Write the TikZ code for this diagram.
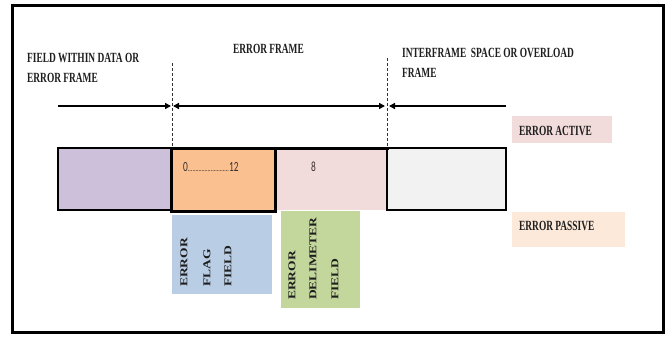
\documentclass[tikz,border=0pt]{standalone}
\usepackage{fontspec}
\setmainfont{Liberation Serif}
\newfontfamily\digitfont{Carlito}
\usetikzlibrary{arrows.meta}
\definecolor{purp}{HTML}{CCC0DA}
\definecolor{orng}{HTML}{FAC090}
\definecolor{pnk}{HTML}{F2DCDB}
\definecolor{gry}{HTML}{F2F2F2}
\definecolor{blu}{HTML}{B9CDE5}
\definecolor{grn}{HTML}{C3D69B}
\definecolor{peach}{HTML}{FDE9D9}
\definecolor{txtc}{HTML}{1E1E1E}
\definecolor{digc}{HTML}{3A3030}
\newcommand{\hc}[1]{\scalebox{0.67}[1]{#1}}
\newcommand{\vc}[1]{\scalebox{1}[0.78]{#1}}
\tikzset{
  lbl/.style={inner sep=0pt, anchor=base west, text=txtc,
    font=\fontsize{14}{16}\selectfont\bfseries},
  vlbl/.style={inner sep=0pt, anchor=west, rotate=90, text=txtc,
    font=\fontsize{13.5}{15}\selectfont\bfseries},
  dig/.style={inner sep=0pt, anchor=base west, text=digc,
    font=\digitfont\fontsize{14}{16}\selectfont},
  cell/.style={anchor=north west, inner sep=0pt, outer sep=0pt},
  seg/.style={line width=2pt, draw=black},
  dash line/.style={draw=black!80, line width=0.8pt, dash pattern=on 3pt off 2pt}
}
\begin{document}
\begin{tikzpicture}[x=1pt,y=-1pt]
\useasboundingbox (0,0) rectangle (671,337);
\fill[white] (0,0) rectangle (671,337);
\node[cell, draw=black, line width=3pt, minimum width=651pt, minimum height=326pt] (frame) at (12,6) {};

% titles
\node[lbl] (t1a) at (27,63) {\hc{FIELD WITHIN DATA OR}};
\node[lbl] (t1b) at (27,82) {\hc{ERROR FRAME}};
\node[lbl] (t2) at (233,53) {\hc{ERROR FRAME}};
\node[lbl] (t3a) at (402,57) {\hc{INTERFRAME\ \ SPACE OR OVERLOAD}};
\node[lbl] (t3b) at (402,77) {\hc{FRAME}};

% dashed separators
\coordinate (d1t) at (172,63);
\coordinate (d1b) at (172,150);
\coordinate (d2t) at (387,58);
\coordinate (d2b) at (387,150);
\draw[dash line] (d1t) -- (d1b);
\draw[dash line] (d2t) -- (d2b);

% arrows
\coordinate (a0) at (58,106);
\coordinate (a1) at (171,106);
\coordinate (a2) at (173,106);
\coordinate (a3) at (385,106);
\coordinate (a4) at (389,106);
\coordinate (a5) at (506,106);
\draw[seg, -{Triangle[length=6pt,width=6pt]}] (a0) -- (a1);
\draw[seg, {Triangle[length=6pt,width=6pt]}-{Triangle[length=6pt,width=6pt]}] (a2) -- (a3);
\draw[seg, {Triangle[length=6pt,width=6pt]}-] (a4) -- (a5);

% lower field boxes
\node[cell, fill=blu, minimum width=100pt, minimum height=79pt] (flag) at (172,215) {};
\node[cell, fill=grn, minimum width=79pt, minimum height=97pt] (delim) at (281,211) {};

% bit row
\node[cell, fill=purp, draw=black, line width=2pt, minimum width=113pt, minimum height=62pt] (prev) at (58,148) {};
\node[cell, fill=pnk, minimum width=112pt, minimum height=62pt] (dl) at (275,148) {};
\node[cell, fill=gry, draw=black, line width=2pt, minimum width=119pt, minimum height=62pt] (ifs) at (387,148) {};
\node[cell, fill=orng, draw=black, line width=3pt, minimum width=104pt, minimum height=63pt] (ef) at (171,148) {};
\draw[line width=3pt, line cap=rect] (dl.north west) -- (dl.north east);

\node[dig] (n012) at (183,171) {\scalebox{0.67}[1]{0\fontsize{9}{10}\selectfont...........................\fontsize{14}{16}\selectfont12}};
\node[dig] (n8) at (311,171) {\scalebox{0.67}[1]{8}};

% rotated labels
\node[vlbl] (f1) at (184,287) {\vc{ERROR}};
\node[vlbl] (f2) at (207,287) {\vc{FLAG}};
\node[vlbl] (f3) at (228,287) {\vc{FIELD}};
\node[vlbl] (g1) at (292,300) {\vc{ERROR}};
\node[vlbl] (g2) at (313,300) {\vc{DELIMETER}};
\node[vlbl] (g3) at (335,300) {\vc{FIELD}};

% legend
\node[cell, fill=pnk, minimum width=100pt, minimum height=27pt] (actbg) at (512,116) {};
\node[lbl] (act) at (519,135) {\hc{ERROR ACTIVE}};
\node[cell, fill=peach, minimum width=113pt, minimum height=35pt] (pasbg) at (512,212) {};
\node[lbl] (pas) at (519,230) {\hc{ERROR PASSIVE}};
\end{tikzpicture}
\end{document}
